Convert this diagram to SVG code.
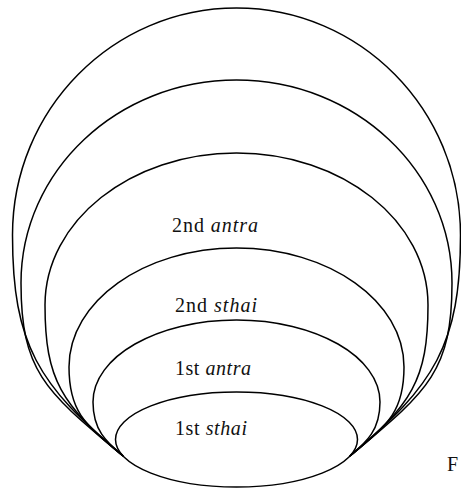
<svg xmlns="http://www.w3.org/2000/svg" width="461" height="488" viewBox="0 0 461 488">
<style>
.c{fill:none;stroke:#000;stroke-width:1.5}
.t{font-family:"Liberation Serif","Times New Roman",serif;font-size:20px;fill:#111}
.i{font-style:italic}
</style>
<rect width="461" height="488" fill="#fff"/>
<g id="ring6"><path class="c" d="M123,456 C38.7,385.3 12.5,345 12.5,235 C12.5,109.6 112.8,8 236.5,8 C360.2,8 460.5,109.6 460.5,235 C460.5,345 434.3,385.3 350,456"/></g>
<g id="ring5"><path class="c" d="M123,456 C46.4,391.7 21,373 21,283 C21,170.9 117.5,80 236.5,80 C355.5,80 452,170.9 452,283 C452,373 426.6,391.7 350,456"/></g>
<g id="antra2"><path class="c" d="M123,456 C61.7,404.6 45,380 45,305 C45,221.1 130.7,153 236.5,153 C342.3,153 428,221.1 428,305 C428,380 411.3,404.6 350,456"/>
<text class="t" x="172" y="232" textLength="86" lengthAdjust="spacing">2nd <tspan class="i">antra</tspan></text></g>
<g id="sthai2"><path class="c" d="M123,456 C84.7,423.9 69,412 69,367 C69,301.3 144,248 236.5,248 C329,248 404,301.3 404,367 C404,412 388.3,423.9 350,456"/>
<text class="t" x="175" y="312" textLength="82" lengthAdjust="spacing">2nd <tspan class="i">sthai</tspan></text></g>
<g id="antra1"><path class="c" d="M123,456 C106.1,441.9 93,430 93,402 C93,356.7 157.2,320 236.5,320 C315.8,320 380,356.7 380,402 C380,430 366.9,441.9 350,456"/>
<text class="t" x="175" y="375" textLength="76" lengthAdjust="spacing">1st <tspan class="i">antra</tspan></text></g>
<g id="sthai1"><ellipse class="c" cx="236.5" cy="439.5" rx="121" ry="47.5"/>
<text class="t" x="175" y="435" textLength="72" lengthAdjust="spacing">1st <tspan class="i">sthai</tspan></text></g>
<g id="connectors"></g>
<text class="t" x="447" y="471">F</text>
</svg>
